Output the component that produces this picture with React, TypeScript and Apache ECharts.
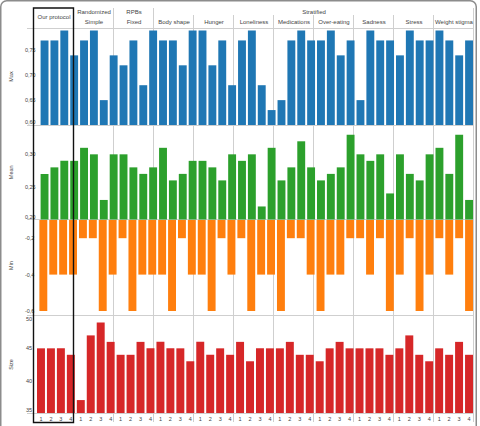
import React, { useEffect, useRef } from "react";
import * as echarts from "echarts";

// Column groups: one block of four runs per allocation design / stratification factor
const groupNames = [
  "Our protocol",
  "Simple",
  "Fixed",
  "Body shape",
  "Hunger",
  "Loneliness",
  "Medications",
  "Over-eating",
  "Sadness",
  "Stress",
  "Weight stigma",
];
// Upper header row: design name, first group index, number of groups it spans
const methodNames = ["Randomized", "RPBs", "Stratified"];
const methodStart = [1, 2, 3];
const methodSpan = [1, 1, 8];
const runLabels = ["1", "2", "3", "4"];

const maxValues = [
  0.77, 0.77, 0.79, 0.74,
  0.77, 0.79, 0.65, 0.74,
  0.72, 0.77, 0.68, 0.79,
  0.77, 0.77, 0.72, 0.79,
  0.79, 0.72, 0.77, 0.68,
  0.77, 0.79, 0.68, 0.63,
  0.65, 0.77, 0.79, 0.77,
  0.77, 0.79, 0.74, 0.77,
  0.65, 0.79, 0.77, 0.77,
  0.74, 0.79, 0.77, 0.77,
  0.79, 0.77, 0.74, 0.77,
];
const meanValues = [
  0.27, 0.28, 0.29, 0.29,
  0.31, 0.3, 0.23, 0.3,
  0.3, 0.28, 0.27, 0.28,
  0.31, 0.26, 0.27, 0.29,
  0.29, 0.28, 0.26, 0.3,
  0.29, 0.3, 0.22, 0.31,
  0.26, 0.28, 0.32, 0.28,
  0.26, 0.27, 0.28, 0.33,
  0.3, 0.29, 0.3, 0.24,
  0.3, 0.27, 0.26, 0.3,
  0.31, 0.27, 0.33, 0.23,
];
const minValues = [
  -0.6, -0.4, -0.4, -0.4,
  -0.2, -0.2, -0.6, -0.4,
  -0.2, -0.6, -0.4, -0.4,
  -0.4, -0.6, -0.2, -0.4,
  -0.4, -0.6, -0.2, -0.4,
  -0.2, -0.6, -0.4, -0.4,
  -0.6, -0.2, -0.2, -0.4,
  -0.6, -0.4, -0.4, -0.2,
  -0.2, -0.4, -0.2, -0.6,
  -0.4, -0.2, -0.6, -0.4,
  -0.2, -0.4, -0.2, -0.6,
];
const sizeValues = [
  45, 45, 45, 44,
  37, 47, 49, 46,
  44, 44, 46, 45,
  46, 45, 45, 43,
  46, 44, 45, 44,
  46, 43, 45, 45,
  45, 46, 44, 44,
  43, 45, 46, 45,
  45, 45, 45, 44,
  45, 47, 44, 43,
  45, 44, 46, 44,
];

const FONT = '"Liberation Sans", Arial, sans-serif';
const TEXT = "#444";
const RULE = "#cfcfcf";

// Plot geometry
const LEFT = 34;
const RIGHT_EDGE = 474;
const GROUP_W = (RIGHT_EDGE - LEFT) / groupNames.length;

type Panel = {
  name: string;
  values: number[];
  color: string;
  top: number;
  height: number;
  min: number;
  max: number;
  interval: number;
  digits: number;
  minLabelAlign: string;
  maxLabelAlign: string;
};

const panels: Panel[] = [
  { name: "Max", values: maxValues, color: "#1f77b4", top: 28, height: 97, min: 0.6, max: 0.795, interval: 0.05, digits: 2, minLabelAlign: "bottom", maxLabelAlign: "middle" },
  { name: "Mean", values: meanValues, color: "#2ca02c", top: 125, height: 94.5, min: 0.2, max: 0.345, interval: 0.05, digits: 2, minLabelAlign: "bottom", maxLabelAlign: "middle" },
  { name: "Min", values: minValues, color: "#ff7f0e", top: 220, height: 91, min: -0.6, max: -0.1, interval: 0.2, digits: 1, minLabelAlign: "middle", maxLabelAlign: "middle" },
  { name: "Size", values: sizeValues, color: "#d62728", top: 316, height: 97, min: 35, max: 50, interval: 5, digits: 0, minLabelAlign: "bottom", maxLabelAlign: "top" },
];

const categories = groupNames.flatMap((g) => runLabels.map((r) => `${g}|${r}`));

function tickFormatter(p: Panel) {
  return (v: number) => {
    const k = v / p.interval;
    if (Math.abs(k - Math.round(k)) > 1e-6) return "";
    return v.toFixed(p.digits).replace(".", ",");
  };
}

function buildOption(): echarts.EChartsCoreOption {
  const grid = panels.map((p) => ({
    left: LEFT,
    width: RIGHT_EDGE - LEFT,
    top: p.top,
    height: p.height,
  }));

  const xAxis = panels.map((p, i) => ({
    type: "category",
    gridIndex: i,
    data: categories,
    axisLine: { show: false },
    axisTick: { show: false },
    splitLine: { show: false },
    axisLabel: {
      show: i === panels.length - 1,
      interval: 0,
      margin: 3,
      fontSize: 5.5,
      fontFamily: FONT,
      color: TEXT,
      formatter: (v: string) => v.split("|")[1],
    },
  }));

  const yAxis = panels.map((p, i) => ({
    type: "value",
    gridIndex: i,
    min: p.min,
    max: p.max,
    interval: p.interval,
    name: p.name,
    nameLocation: "middle",
    nameRotate: 90,
    nameGap: 22,
    nameTextStyle: { fontSize: 5.5, fontFamily: FONT, color: TEXT },
    axisLine: { show: false },
    axisTick: { show: false },
    splitLine: { show: false },
    axisLabel: {
      margin: 4,
      fontSize: 5.5,
      fontFamily: FONT,
      color: TEXT,
      verticalAlignMinLabel: p.minLabelAlign,
      verticalAlignMaxLabel: p.maxLabelAlign,
      formatter: tickFormatter(p),
    },
  }));

  const series = panels.map((p, i) => ({
    type: "bar",
    name: p.name,
    xAxisIndex: i,
    yAxisIndex: i,
    data: p.values,
    barCategoryGap: "20%",
    clip: true,
    itemStyle: { color: p.color },
  }));

  const graphic: any[] = [];
  const line = (x1: number, y1: number, x2: number, y2: number, stroke = RULE, lineWidth = 1, z = 0) =>
    graphic.push({
      type: "line",
      z,
      silent: true,
      shape: { x1, y1, x2, y2 },
      style: { stroke, lineWidth },
    });
  const text = (t: string, x: number, y: number, size = 6) =>
    graphic.push({
      type: "text",
      x,
      y,
      z: 10,
      silent: true,
      style: {
        text: t,
        font: `${size}px ${FONT}`,
        fill: TEXT,
        align: "center",
        verticalAlign: "middle",
        textAlign: "center",
        textVerticalAlign: "middle",
      },
    });

  const groupX = (i: number) => LEFT + i * GROUP_W;
  const plotBottom = panels[panels.length - 1].top + panels[panels.length - 1].height;

  // horizontal rules: header base and panel boundaries
  const hRules = [28.5, 125.5, 219.5, 315.5, plotBottom + 0.5];
  hRules.forEach((y) => line(27, y, RIGHT_EDGE, y));

  // vertical rules between groups
  const methodEdges = new Set<number>();
  methodStart.forEach((s, k) => {
    methodEdges.add(s);
    methodEdges.add(s + methodSpan[k]);
  });
  for (let i = 2; i <= groupNames.length; i++) {
    const x = Math.round(groupX(i)) - 0.5;
    line(x, methodEdges.has(i) ? 8 : 15, x, 422);
  }

  // header texts
  text(groupNames[0], groupX(0.5), 17);
  for (let i = 1; i < groupNames.length; i++) text(groupNames[i], groupX(i + 0.5), 22);
  methodNames.forEach((m, k) => text(m, groupX(methodStart[k] + methodSpan[k] / 2), 12));

  // highlight box around our protocol
  graphic.push({
    type: "rect",
    z: 20,
    silent: true,
    shape: { x: groupX(0) - 0.5, y: 8, width: GROUP_W, height: 414.5 },
    style: { fill: "none", stroke: "#111", lineWidth: 1.4 },
  });

  // outer figure frame
  graphic.push({
    type: "rect",
    z: 20,
    silent: true,
    shape: { x: 0.75, y: 0.75, width: 475.5, height: 440, r: 6 },
    style: { fill: "none", stroke: "#8c8c8c", lineWidth: 1.5 },
  });

  return {
    animation: false,
    backgroundColor: "#fff",
    textStyle: { fontFamily: FONT },
    grid,
    xAxis,
    yAxis,
    series,
    graphic,
  };
}

export default function App() {
  const ref = useRef<HTMLDivElement>(null);
  useEffect(() => {
    if (!ref.current) return;
    const chart = echarts.init(ref.current, undefined, { renderer: "svg" });
    chart.setOption(buildOption());
    return () => chart.dispose();
  }, []);
  return (
    <div
      ref={ref}
      style={{ position: "fixed", left: 0, top: 0, width: 480, height: 426, background: "#fff" }}
    />
  );
}
